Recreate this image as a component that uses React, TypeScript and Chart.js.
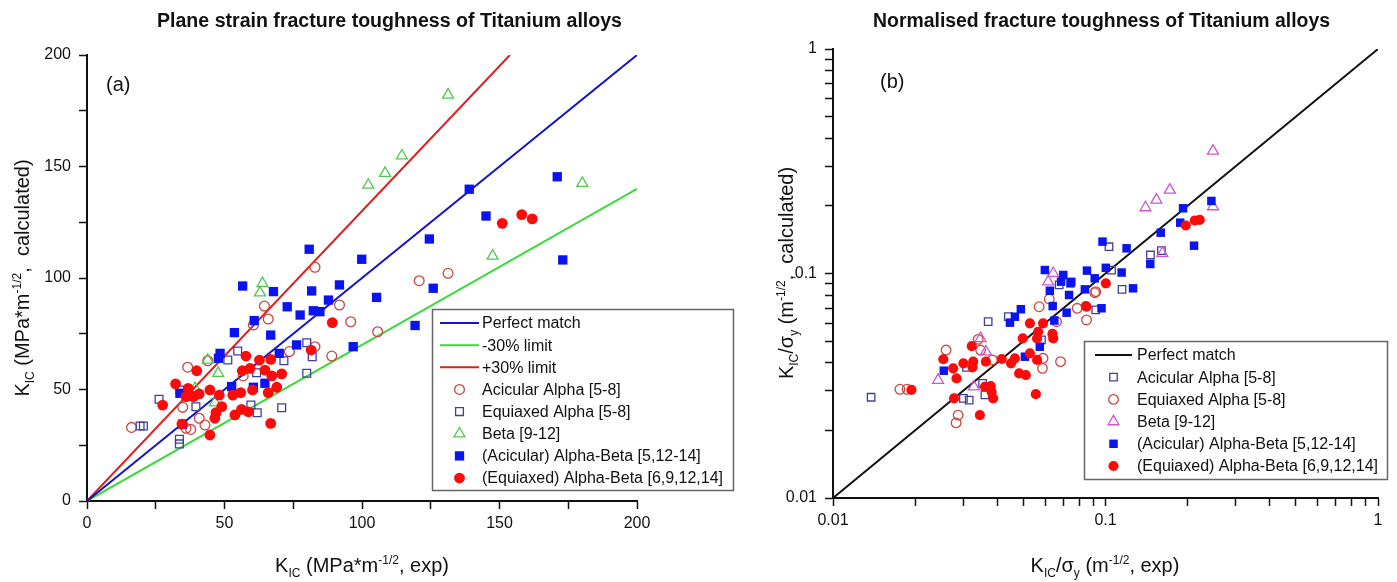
import React, { useEffect, useRef } from "react";
import { Chart, registerables } from "chart.js";
Chart.register(...registerables);

const FONT = "'Liberation Sans', Arial, Helvetica, sans-serif";
type P = [number, number][];

// ---------------- Panel (a) data ----------------
const aTitle = "Plane strain fracture toughness of Titanium alloys";
const aTickValues = [0, 25, 50, 75, 100, 125, 150, 175, 200];
const aTickLabels = ["0", "", "50", "", "100", "", "150", "", "200"];
const aPerfect: P = [[0, 0], [200, 200]];
const aMinus30: P = [[0, 0], [200, 140]];
const aPlus30: P = [[0, 0], [153.8, 200]];
const aAcicularAlpha: P = [
  [64.5, 87.4], [65.9, 81.6], [60.5, 78.9], [91.8, 87.9], [95.9, 80.4], [105.7, 75.9],
  [73.6, 67.0], [82.9, 69.2], [89.0, 65.0], [56.8, 56.1], [43.9, 62.9], [36.6, 60.0],
  [34.8, 42.0], [16.2, 33.0], [36.0, 32.6], [37.7, 32.1], [40.8, 37.1], [42.9, 34.1],
  [82.9, 104.8], [120.8, 98.8], [131.3, 102.1],
];
const aEquiaxedAlpha: P = [
  [54.8, 67.3], [51.2, 63.2], [71.6, 62.9], [79.9, 71.0], [81.9, 64.7], [79.9, 57.3],
  [61.7, 57.5], [33.8, 49.8], [26.2, 45.6], [39.6, 42.3], [59.6, 43.0], [61.9, 39.6],
  [70.8, 41.8], [19.3, 33.6], [20.5, 33.6], [33.6, 27.7], [33.6, 25.6],
];
const aBeta: P = [
  [63.8, 97.6], [62.9, 93.4], [43.9, 63.2], [47.7, 57.3], [39.3, 50.5], [46.5, 44.1],
  [102.3, 141.7], [108.4, 147.0], [114.5, 154.8], [131.3, 182.1], [180.1, 142.5], [147.5, 109.9],
];
const aAcicularAB: P = [
  [56.6, 96.4], [67.8, 93.9], [81.7, 94.2], [91.8, 96.9], [105.3, 91.3], [72.8, 87.1],
  [77.5, 83.4], [82.3, 85.3], [84.7, 84.9], [87.8, 90.1], [60.8, 80.9], [53.6, 75.5],
  [66.8, 74.4], [76.2, 70.0], [96.8, 69.2], [69.9, 66.2], [48.4, 66.2], [47.8, 64.0],
  [52.6, 51.3], [64.7, 52.8], [60.5, 51.0], [33.8, 48.3], [34.8, 34.5], [80.8, 112.9],
  [99.9, 108.4], [139.0, 139.8], [145.1, 127.8], [124.5, 117.5], [171.0, 145.4],
  [173.0, 108.1], [125.9, 95.4], [119.3, 78.7],
];
const aEquiaxedAB: P = [
  [89.2, 80.0], [81.5, 67.7], [57.8, 65.0], [62.7, 63.2], [66.8, 63.5], [56.5, 58.4],
  [59.3, 59.5], [64.7, 58.7], [67.2, 56.1], [70.8, 57.0], [39.9, 58.4], [32.2, 52.5],
  [36.8, 50.5], [36.0, 46.8], [38.7, 46.8], [40.8, 48.0], [44.7, 49.8], [48.1, 47.5],
  [53.0, 47.5], [55.9, 48.6], [60.2, 49.8], [65.9, 48.6], [69.0, 51.0], [27.5, 43.0],
  [49.0, 42.3], [46.9, 39.6], [46.5, 37.1], [53.8, 38.6], [56.2, 41.1], [58.7, 40.0],
  [34.5, 34.5], [66.8, 34.8], [44.7, 29.6], [151.0, 124.5], [158.1, 128.4], [161.9, 126.5],
];

// ---------------- Panel (b) data ----------------
const bTitle = "Normalised fracture toughness of Titanium alloys";
const bTickValues = [0.01, 0.02, 0.03, 0.04, 0.05, 0.06, 0.07, 0.08, 0.09, 0.1, 0.2, 0.3, 0.4, 0.5, 0.6, 0.7, 0.8, 0.9, 1];
const bTickLabels = ["0.01", "", "", "", "", "", "", "", "", "0.1", "", "", "", "", "", "", "", "", "1"];
const bPerfect: P = [[0.01, 0.01], [1, 1]];
const bAcicularAlpha: P = [
  [0.0138, 0.0281], [0.0371, 0.061], [0.0301, 0.0278], [0.0316, 0.0273], [0.0361, 0.0288],
  [0.0354, 0.0324], [0.0309, 0.0382], [0.0582, 0.0506], [0.0921, 0.0688], [0.0676, 0.0889],
  [0.044, 0.0643], [0.103, 0.1316], [0.1462, 0.1209], [0.1604, 0.1264], [0.1052, 0.1036],
  [0.115, 0.085],
];
const bEquiaxedAlpha: P = [
  [0.0176, 0.0305], [0.0187, 0.0305], [0.026, 0.0456], [0.0288, 0.0234], [0.0283, 0.0216],
  [0.0341, 0.0509], [0.0348, 0.0456], [0.0385, 0.0412], [0.0571, 0.0711], [0.059, 0.0419],
  [0.0587, 0.0378], [0.0684, 0.0405], [0.0787, 0.07], [0.0852, 0.0621], [0.0921, 0.083],
  [0.0661, 0.061], [0.0622, 0.077], [0.0913, 0.0821],
];
const bBeta: P = [
  [0.0243, 0.0335], [0.0348, 0.0514], [0.0364, 0.0448], [0.0329, 0.0313], [0.0616, 0.0919],
  [0.0643, 0.1002], [0.248, 0.3513], [0.1722, 0.2355], [0.1538, 0.2126], [0.1402, 0.1966],
  [0.248, 0.1986], [0.1617, 0.123],
];
const bAcicularAB: P = [
  [0.0255, 0.0369], [0.0446, 0.0604], [0.0465, 0.0642], [0.0489, 0.0693], [0.0506, 0.0426],
  [0.0574, 0.0472], [0.0625, 0.0838], [0.064, 0.0716], [0.0649, 0.0617], [0.072, 0.0669],
  [0.0735, 0.0802], [0.0744, 0.0904], [0.084, 0.085], [0.0687, 0.092], [0.0599, 0.1036],
  [0.07, 0.0985], [0.0749, 0.0918], [0.0855, 0.103], [0.0975, 0.1387], [0.1195, 0.1295],
  [0.1926, 0.1952], [0.188, 0.1684], [0.2447, 0.2104], [0.2113, 0.133], [0.1595, 0.152],
  [0.146, 0.1102], [0.1146, 0.101], [0.1003, 0.106], [0.0913, 0.0952], [0.1262, 0.0859],
  [0.0967, 0.07],
];
const bEquiaxedAB: P = [
  [0.0194, 0.0303], [0.0254, 0.0415], [0.0276, 0.0378], [0.0284, 0.0341], [0.0278, 0.0278],
  [0.0301, 0.0398], [0.0325, 0.0382], [0.0327, 0.0405], [0.0323, 0.0475], [0.0364, 0.0405],
  [0.0346, 0.0234], [0.0361, 0.0313], [0.0379, 0.0315], [0.0382, 0.0297], [0.0387, 0.0278],
  [0.0416, 0.0416], [0.045, 0.0398], [0.0465, 0.0419], [0.0482, 0.0359], [0.051, 0.0353],
  [0.0497, 0.0514], [0.0528, 0.06], [0.0528, 0.0441], [0.0561, 0.0412], [0.0555, 0.029],
  [0.0561, 0.0514], [0.0566, 0.055], [0.059, 0.06], [0.0639, 0.0538], [0.0643, 0.0514],
  [0.0852, 0.0711], [0.197, 0.1636], [0.2126, 0.1722], [0.2218, 0.1735], [0.1003, 0.0904],
  [0.0847, 0.0716],
];

// ---------------- styling / layout ----------------
type Shape = "circle" | "rect" | "triangle";
interface Series {
  label: string; data: P; kind: "line" | "marker"; color: string;
  shape?: Shape; filled?: boolean; r?: number; order: number;
}
interface Seg { t: string; s: number; dy?: number; bold?: boolean }

const C = {
  blueLine: "#1414c4", greenLine: "#3ada3a", redLine: "#dc2020", black: "#111111",
  brown: "#c8463f", navy: "#40409c", green: "#50c850", magenta: "#cc55cc",
  blue: "#0a14f0", red: "#ff0a0a",
};

const aSeries: Series[] = [
  { label: "Perfect match", data: aPerfect, kind: "line", color: C.blueLine, order: 10 },
  { label: "-30% limit", data: aMinus30, kind: "line", color: C.greenLine, order: 11 },
  { label: "+30% limit", data: aPlus30, kind: "line", color: C.redLine, order: 12 },
  { label: "Acicular Alpha [5-8]", data: aAcicularAlpha, kind: "marker", color: C.brown, shape: "circle", r: 4.9, order: 4 },
  { label: "Equiaxed Alpha [5-8]", data: aEquiaxedAlpha, kind: "marker", color: C.navy, shape: "rect", r: 5.5, order: 3 },
  { label: "Beta [9-12]", data: aBeta, kind: "marker", color: C.green, shape: "triangle", r: 6.3, order: 2 },
  { label: "(Acicular) Alpha-Beta [5,12-14]", data: aAcicularAB, kind: "marker", color: C.blue, shape: "rect", filled: true, r: 6.6, order: 1 },
  { label: "(Equiaxed) Alpha-Beta [6,9,12,14]", data: aEquiaxedAB, kind: "marker", color: C.red, shape: "circle", filled: true, r: 5.4, order: 0 },
];
const bSeries: Series[] = [
  { label: "Perfect match", data: bPerfect, kind: "line", color: C.black, order: 10 },
  { label: "Acicular Alpha [5-8]", data: bAcicularAlpha, kind: "marker", color: C.navy, shape: "rect", r: 5.3, order: 4 },
  { label: "Equiaxed Alpha [5-8]", data: bEquiaxedAlpha, kind: "marker", color: C.brown, shape: "circle", r: 4.8, order: 3 },
  { label: "Beta [9-12]", data: bBeta, kind: "marker", color: C.magenta, shape: "triangle", r: 6.3, order: 2 },
  { label: "(Acicular) Alpha-Beta [5,12-14]", data: bAcicularAB, kind: "marker", color: C.blue, shape: "rect", filled: true, r: 6.0, order: 1 },
  { label: "(Equiaxed) Alpha-Beta [6,9,12,14]", data: bEquiaxedAB, kind: "marker", color: C.red, shape: "circle", filled: true, r: 5.1, order: 0 },
];

interface Panel {
  ox: number; width: number; log: boolean; min: number; max: number;
  tickValues: number[]; tickLabels: string[]; series: Series[];
  area: { left: number; right: number; top: number; bottom: number };
  title: string; titleX: number; titleW: number; titleBase: number;
  xTitle: Seg[]; xTitleCx: number; xTitleBase: number;
  yTitle: Seg[]; yTitleBaseX: number; yTitleCy: number;
  tag: string; tagX: number; tagBase: number;
  legend: { x: number; y: number; w: number; h: number; row0: number; step: number; lx0: number; lx1: number; tx: number };
}

const sub = (t: string): Seg => ({ t, s: 12, dy: 5 });
const sup = (t: string): Seg => ({ t, s: 12, dy: -8 });
const big = (t: string): Seg => ({ t, s: 20 });

const panelA: Panel = {
  ox: 0, width: 760, log: false, min: 0, max: 200,
  tickValues: aTickValues, tickLabels: aTickLabels, series: aSeries,
  area: { left: 87, right: 637, top: 55, bottom: 501 },
  title: aTitle, titleX: 157, titleW: 465, titleBase: 27,
  xTitle: [big("K"), sub("IC"), big(" (MPa*m"), sup("-1/2"), big(", exp)")], xTitleCx: 362, xTitleBase: 572,
  yTitle: [big("K"), sub("IC"), big(" (MPa*m"), sup("-1/2"), big(",  calculated)")], yTitleBaseX: 29, yTitleCy: 278,
  tag: "(a)", tagX: 106, tagBase: 91,
  legend: { x: 432, y: 309, w: 301, h: 181, row0: 323, step: 22.15, lx0: 440, lx1: 479, tx: 482 },
};
const panelB: Panel = {
  ox: 700, width: 697, log: true, min: 0.01, max: 1,
  tickValues: bTickValues, tickLabels: bTickLabels, series: bSeries,
  area: { left: 833, right: 1378, top: 49, bottom: 498 },
  title: bTitle, titleX: 873, titleW: 457, titleBase: 27,
  xTitle: [big("K"), sub("IC"), big("/σ"), sub("y"), big(" (m"), sup("-1/2"), big(", exp)")], xTitleCx: 1105, xTitleBase: 572,
  yTitle: [big("K"), sub("IC"), big("/σ"), sub("y"), big(" (m"), sup("-1/2"), big(",  calculated)")], yTitleBaseX: 793, yTitleCy: 273,
  tag: "(b)", tagX: 880, tagBase: 88,
  legend: { x: 1084, y: 341, w: 303, h: 138, row0: 355, step: 22.2, lx0: 1095, lx1: 1132, tx: 1137 },
};

// ---------------- drawing helpers ----------------
function segFont(s: Seg) { return `${s.bold ? "bold " : ""}${s.s}px ${FONT}`; }
function drawRich(ctx: CanvasRenderingContext2D, segs: Seg[], x: number, y: number, align: "left" | "center", fitW?: number) {
  let w = 0;
  const ws = segs.map((s) => { ctx.font = segFont(s); const m = ctx.measureText(s.t).width; w += m; return m; });
  const k = fitW ? fitW / w : 1;
  ctx.save();
  ctx.translate(x, y);
  ctx.scale(k, 1);
  let cx = align === "center" ? -w / 2 : 0;
  ctx.textAlign = "left";
  ctx.textBaseline = "alphabetic";
  ctx.fillStyle = "#111";
  segs.forEach((s, i) => { ctx.font = segFont(s); ctx.fillText(s.t, cx, s.dy || 0); cx += ws[i]; });
  ctx.restore();
}
function drawMarker(ctx: CanvasRenderingContext2D, s: Series, x: number, y: number) {
  const r = s.r || 5;
  ctx.beginPath();
  if (s.shape === "circle") ctx.arc(x, y, r, 0, Math.PI * 2);
  else if (s.shape === "rect") { const h = Math.SQRT1_2 * r; ctx.rect(x - h, y - h, 2 * h, 2 * h); }
  else {
    let a = 0;
    ctx.moveTo(x + Math.sin(a) * r, y - Math.cos(a) * r);
    a += (2 * Math.PI) / 3; ctx.lineTo(x + Math.sin(a) * r, y - Math.cos(a) * r);
    a += (2 * Math.PI) / 3; ctx.lineTo(x + Math.sin(a) * r, y - Math.cos(a) * r);
    ctx.closePath();
  }
  if (s.filled) { ctx.fillStyle = s.color; ctx.fill(); }
  else { ctx.strokeStyle = s.color; ctx.lineWidth = 1.3; ctx.stroke(); }
}

function decorPlugin(p: Panel) {
  return {
    id: "decor",
    afterDraw(chart: Chart) {
      const ctx = chart.ctx;
      const o = p.ox;
      ctx.save();
      drawRich(ctx, [{ t: p.title, s: 19.5, bold: true }], p.titleX - o, p.titleBase, "left", p.titleW);
      drawRich(ctx, [{ t: p.tag, s: 20 }], p.tagX - o, p.tagBase, "left");
      drawRich(ctx, p.xTitle, p.xTitleCx - o, p.xTitleBase, "center");
      ctx.save();
      ctx.translate(p.yTitleBaseX - o, p.yTitleCy);
      ctx.rotate(-Math.PI / 2);
      drawRich(ctx, p.yTitle, 0, 0, "center");
      ctx.restore();
      const L = p.legend;
      ctx.fillStyle = "#fff";
      ctx.fillRect(L.x - o, L.y, L.w, L.h);
      ctx.strokeStyle = "#666";
      ctx.lineWidth = 1.5;
      ctx.strokeRect(L.x - o + 0.5, L.y + 0.5, L.w, L.h);
      p.series.forEach((s, i) => {
        const y = L.row0 + i * L.step;
        if (s.kind === "line") {
          ctx.strokeStyle = s.color; ctx.lineWidth = 2;
          ctx.beginPath(); ctx.moveTo(L.lx0 - o, y); ctx.lineTo(L.lx1 - o, y); ctx.stroke();
        } else {
          drawMarker(ctx, s, (L.lx0 + L.lx1) / 2 - o, y);
        }
        ctx.fillStyle = "#111";
        ctx.font = `16px ${FONT}`;
        ctx.textBaseline = "middle";
        ctx.textAlign = "left";
        ctx.fillText(s.label, L.tx - o, y + 1);
      });
      ctx.restore();
    },
  };
}

function makeDataset(s: Series) {
  const data = s.data.map(([x, y]) => ({ x, y }));
  if (s.kind === "line") {
    return { label: s.label, data, showLine: true, borderColor: s.color, borderWidth: 2, pointRadius: 0, pointHoverRadius: 0, fill: false, tension: 0, order: s.order };
  }
  return {
    label: s.label, data, showLine: false, pointStyle: s.shape, pointRadius: s.r, pointHoverRadius: s.r,
    backgroundColor: s.filled ? s.color : "rgba(0,0,0,0)", borderColor: s.color,
    borderWidth: s.filled ? 0 : 1.3, order: s.order,
  };
}

function axis(p: Panel, tickPad: number) {
  return {
    type: p.log ? "logarithmic" : "linear",
    min: p.min, max: p.max,
    afterBuildTicks: (sc: any) => { sc.ticks = p.tickValues.map((v) => ({ value: v })); },
    ticks: {
      autoSkip: false, maxRotation: 0, minRotation: 0, padding: tickPad, color: "#111",
      font: { family: FONT, size: 16 },
      callback: (_v: any, i: number) => p.tickLabels[i],
    },
    grid: { drawOnChartArea: false, drawTicks: true, tickLength: 8, tickWidth: 1.5, tickColor: "#111" },
    border: { display: true, color: "#111", width: 2 },
    title: { display: false },
  };
}

function buildChart(canvas: HTMLCanvasElement, p: Panel) {
  const a = p.area;
  const pad = { left: a.left - p.ox - 45, right: p.ox + p.width - a.right, top: a.top, bottom: 582 - a.bottom - 32 };
  const chart = new Chart(canvas, {
    type: "scatter",
    data: { datasets: p.series.map(makeDataset) as any },
    options: {
      responsive: false, animation: false, devicePixelRatio: 1, events: [],
      layout: { padding: pad },
      plugins: { legend: { display: false }, tooltip: { enabled: false }, title: { display: false } },
      scales: { x: axis(p, 5) as any, y: axis(p, 8) as any },
    },
    plugins: [decorPlugin(p)],
  });
  for (let i = 0; i < 4; i++) {
    const ca = chart.chartArea;
    const dl = a.left - p.ox - ca.left, dr = ca.right - (a.right - p.ox), dt = a.top - ca.top, db = ca.bottom - a.bottom;
    if (Math.abs(dl) + Math.abs(dr) + Math.abs(dt) + Math.abs(db) < 0.5) break;
    pad.left += dl; pad.right += dr; pad.top += dt; pad.bottom += db;
    (chart.options.layout as any).padding = { ...pad };
    chart.update();
  }
  return chart;
}

export default function App() {
  const ref1 = useRef<HTMLCanvasElement>(null);
  const ref2 = useRef<HTMLCanvasElement>(null);
  useEffect(() => {
    const c1 = buildChart(ref1.current!, panelA);
    const c2 = buildChart(ref2.current!, panelB);
    return () => { c1.destroy(); c2.destroy(); };
  }, []);
  return (
    <div style={{ position: "fixed", left: 0, top: 0, width: 1397, height: 582, background: "#fff", overflow: "hidden" }}>
      <canvas ref={ref1} width={760} height={582} style={{ position: "absolute", left: 0, top: 0, width: 760, height: 582 }} />
      <canvas ref={ref2} width={697} height={582} style={{ position: "absolute", left: 700, top: 0, width: 697, height: 582 }} />
    </div>
  );
}
